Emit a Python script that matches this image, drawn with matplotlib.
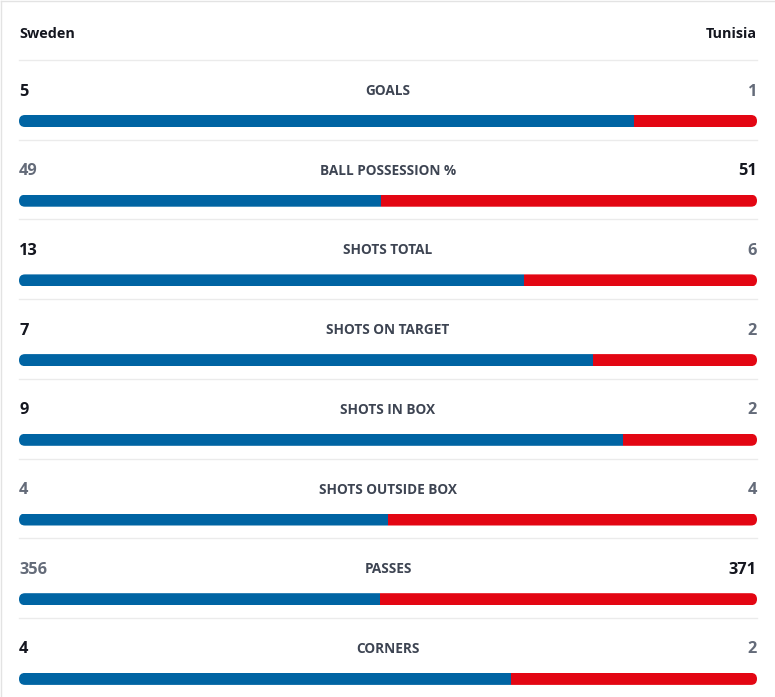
import matplotlib.pyplot as plt
from matplotlib.patches import FancyBboxPatch

teams = ['Sweden', 'Tunisia']
stats = ['GOALS', 'BALL POSSESSION %', 'SHOTS TOTAL', 'SHOTS ON TARGET',
         'SHOTS IN BOX', 'SHOTS OUTSIDE BOX', 'PASSES', 'CORNERS']
sweden = [5, 49, 13, 7, 9, 4, 356, 4]
tunisia = [1, 51, 6, 2, 2, 4, 371, 2]

BLUE = '#0064a3'
RED = '#e30613'
DARK = '#14161f'
GREY = '#646b79'
LABEL = '#3d4452'
SEP = '#ebebeb'

plt.rcParams['font.family'] = ['Open Sans', 'DejaVu Sans']

fig = plt.figure(figsize=(7.75, 6.97), dpi=100)
ax = fig.add_axes([0, 0, 1, 1])
ax.set_xlim(0, 775)
ax.set_ylim(697, 0)
ax.axis('off')

x0, x1 = 19, 757
width = x1 - x0
bar_h = 12
row_step = 79.7
first_num_y = 91.5
first_bar_y = 121

# frame lines
ax.plot([1, 775], [1, 1], color='#e3e3e3', lw=1)
ax.plot([1, 1], [1, 697], color='#e3e3e3', lw=1)

ax.text(x0, 34, teams[0], ha='left', va='center', fontsize=10.4,
        fontweight='bold', color=DARK)
ax.text(x1, 34, teams[1], ha='right', va='center', fontsize=10.4,
        fontweight='bold', color=DARK)

for i, (lab, a, b) in enumerate(zip(stats, sweden, tunisia)):
    ny = first_num_y + i * row_step
    by = first_bar_y + i * row_step
    sy = 60 + i * row_step
    ax.plot([x0, x1], [sy, sy], color=SEP, lw=1)

    ca = DARK if a > b else GREY
    cb = DARK if b > a else GREY
    ax.text(x0, ny, str(a), ha='left', va='center', fontsize=11.8,
            fontweight='bold', color=ca)
    ax.text(x1, ny, str(b), ha='right', va='center', fontsize=11.8,
            fontweight='bold', color=cb)
    ax.text((x0 + x1) / 2, ny - 0.5, lab, ha='center', va='center',
            fontsize=9.8, fontweight='bold', color=LABEL)

    share = a / (a + b)
    clip = FancyBboxPatch((x0, by - bar_h / 2), width, bar_h,
                          boxstyle='round,pad=0,rounding_size=6',
                          transform=ax.transData, facecolor='none',
                          edgecolor='none')
    ax.add_patch(clip)
    bars = ax.barh([by, by], [share * width, (1 - share) * width],
                   left=[x0, x0 + share * width], height=bar_h,
                   color=[BLUE, RED])
    for p in bars:
        p.set_clip_path(clip)

fig.savefig('out.png', dpi=100, facecolor='white')
